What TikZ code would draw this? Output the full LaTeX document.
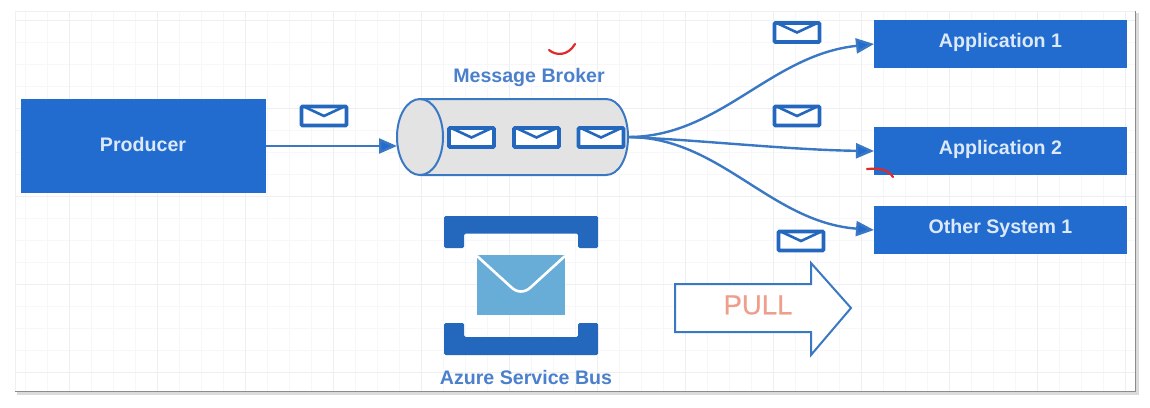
\documentclass[tikz,border=0pt]{standalone}
\usepackage{fontspec}
\setmainfont{Liberation Sans}
\newfontfamily\pullfont[FakeBold=0.7]{Liberation Sans}
\usetikzlibrary{arrows.meta}
\definecolor{boxblue}{HTML}{226CCF}
\definecolor{linkblue}{HTML}{3A78C4}
\definecolor{labelblue}{HTML}{4A80CC}
\definecolor{iconblue}{HTML}{2468BE}
\definecolor{maillight}{HTML}{68ADD8}
\definecolor{pullred}{HTML}{EE9F8C}
\definecolor{gridminor}{HTML}{F7F7F9}
\definecolor{gridmajor}{HTML}{EEEFF2}
\definecolor{boxtext}{HTML}{DCE9FA}
\definecolor{penred}{HTML}{E02A2A}
\tikzset{
  sysbox/.style={fill=boxblue,draw=none,minimum width=253pt,minimum height=48pt,inner sep=0pt,outer sep=0pt},
  boxlabel/.style={text=boxtext,inner sep=0pt,font=\fontsize{19.6}{22}\selectfont\bfseries},
  link/.style={draw=linkblue,line width=2.4pt,-{Triangle[length=18pt,width=15pt,fill=boxblue]}},
  envelope/.style={draw=iconblue,line width=3.8pt,fill=white,rounded corners=1pt,minimum width=45pt,minimum height=19pt,inner sep=0pt,outer sep=0pt,
    path picture={\draw[iconblue,line width=2.6pt,sharp corners] ([yshift=1pt]path picture bounding box.north west)--(path picture bounding box.center)--([yshift=1pt]path picture bounding box.north east);}},
  caption/.style={text=labelblue,inner sep=0pt,font=\fontsize{19.6}{22}\selectfont\bfseries},
  redmark/.style={draw=penred,line width=2.2pt,line cap=round},
  tubeoutline/.style={draw=linkblue,line width=2pt,fill=black!11}
}
\begin{document}
\begin{tikzpicture}[x=1pt,y=-1pt]
\useasboundingbox (0,0) rectangle (1150,407);
\fill[white] (0,0) rectangle (1150,407);
% sheet with shadow
\fill[black!14] (17,13) rectangle (1139,395);
\fill[white] (15,11) rectangle (1135,391);
% grid
\foreach \gx in {25,47,...,1135} \draw[gridminor,line width=.8pt] (\gx,11) -- (\gx,391);
\foreach \gy in {20,42,...,391} \draw[gridminor,line width=.8pt] (15,\gy) -- (1135,\gy);
\foreach \gx in {69,157,...,1135} \draw[gridmajor,line width=.9pt] (\gx,11) -- (\gx,391);
\foreach \gy in {20,108,...,391} \draw[gridmajor,line width=.9pt] (15,\gy) -- (1135,\gy);
\draw[black!6,line width=.8pt] (15,391) -- (15,11) -- (1135,11);
\draw[black!45,line width=1.8pt] (15,391.5) -- (1135.5,391.5) -- (1135.5,11);
% boxes
\node[sysbox,minimum width=245pt,minimum height=94pt] (producer) at (143.5,146) {};
\node[boxlabel] (producerlabel) at (143,144) {Producer};
\node[sysbox] (app1) at (1000.5,44) {};
\node[boxlabel] (app1label) at (1000.5,42) {Application 1};
\node[sysbox] (app2) at (1000.5,151) {};
\node[boxlabel] (app2label) at (1000.5,149) {Application 2};
\node[sysbox] (other) at (1000.5,230) {};
\node[boxlabel] (otherlabel) at (1000.5,228) {Other System 1};
% broker
\node[minimum width=231pt,minimum height=76pt,inner sep=0pt,outer sep=0pt] (broker) at (512.5,137) {};
\draw[tubeoutline] (420,99) -- (606,99) .. controls (619,99) and (628,116) .. (628,137) .. controls (628,158) and (619,175) .. (606,175) -- (420,175) .. controls (407,175) and (397,158) .. (397,137) .. controls (397,116) and (407,99) .. (420,99) -- cycle;
\draw[linkblue,line width=2pt] (420,99) .. controls (433,99) and (443,116) .. (443,137) .. controls (443,158) and (433,175) .. (420,175);
\node[caption] (brokerlabel) at (529,77) {Message Broker};
% envelopes
\node[envelope] (m0) at (324,116) {};
\node[envelope] (m1) at (471.5,137.5) {};
\node[envelope] (m2) at (536.5,137.5) {};
\node[envelope] (m3) at (601,137.5) {};
\node[envelope] (m4) at (797,32.5) {};
\node[envelope] (m5) at (797,116) {};
\node[envelope] (m6) at (801,241) {};
% connectors
\draw[link] (producer.east) -- (producer.east -| broker.west);
\draw[link] (broker.east) .. controls (720,137) and (770,55) .. (app1.west);
\draw[link] (broker.east) .. controls (700,140) and (790,150) .. (app2.west);
\draw[link] (broker.east) .. controls (720,137) and (770,222) .. (other.west);
% service bus icon
\fill[iconblue,rounded corners=1.5pt] (444,216) -- (598,216) -- (598,248) -- (578,248) -- (578,233.5) -- (464,233.5) -- (464,248) -- (444,248) -- cycle;
\fill[iconblue,rounded corners=1.5pt] (444,355) -- (598,355) -- (598,323) -- (578,323) -- (578,337) -- (464,337) -- (464,323) -- (444,323) -- cycle;
\fill[maillight] (477,255) rectangle (565,315);
\draw[white,line width=2.6pt,line join=round] (477,256) -- (511,287) .. controls (517,293) and (525,293) .. (531,287) -- (565,256);
\node[caption] (buslabel) at (526,377) {Azure Service Bus};
% pull arrow
\draw[linkblue,line width=2pt,fill=white,line join=miter] (675,284) -- (811,284) -- (811,263) -- (851,308) -- (811,355) -- (811,332) -- (675,332) -- cycle;
\node[text=pullred,inner sep=0pt,font=\pullfont\fontsize{27.5}{30}\selectfont] (pull) at (758,305) {PULL};
% red marks
\draw[redmark] (549,50) .. controls (556,56) and (568,56) .. (575,44);
\draw[redmark] (867,169) .. controls (878,168) and (888,169) .. (893,177);
\end{tikzpicture}
\end{document}
